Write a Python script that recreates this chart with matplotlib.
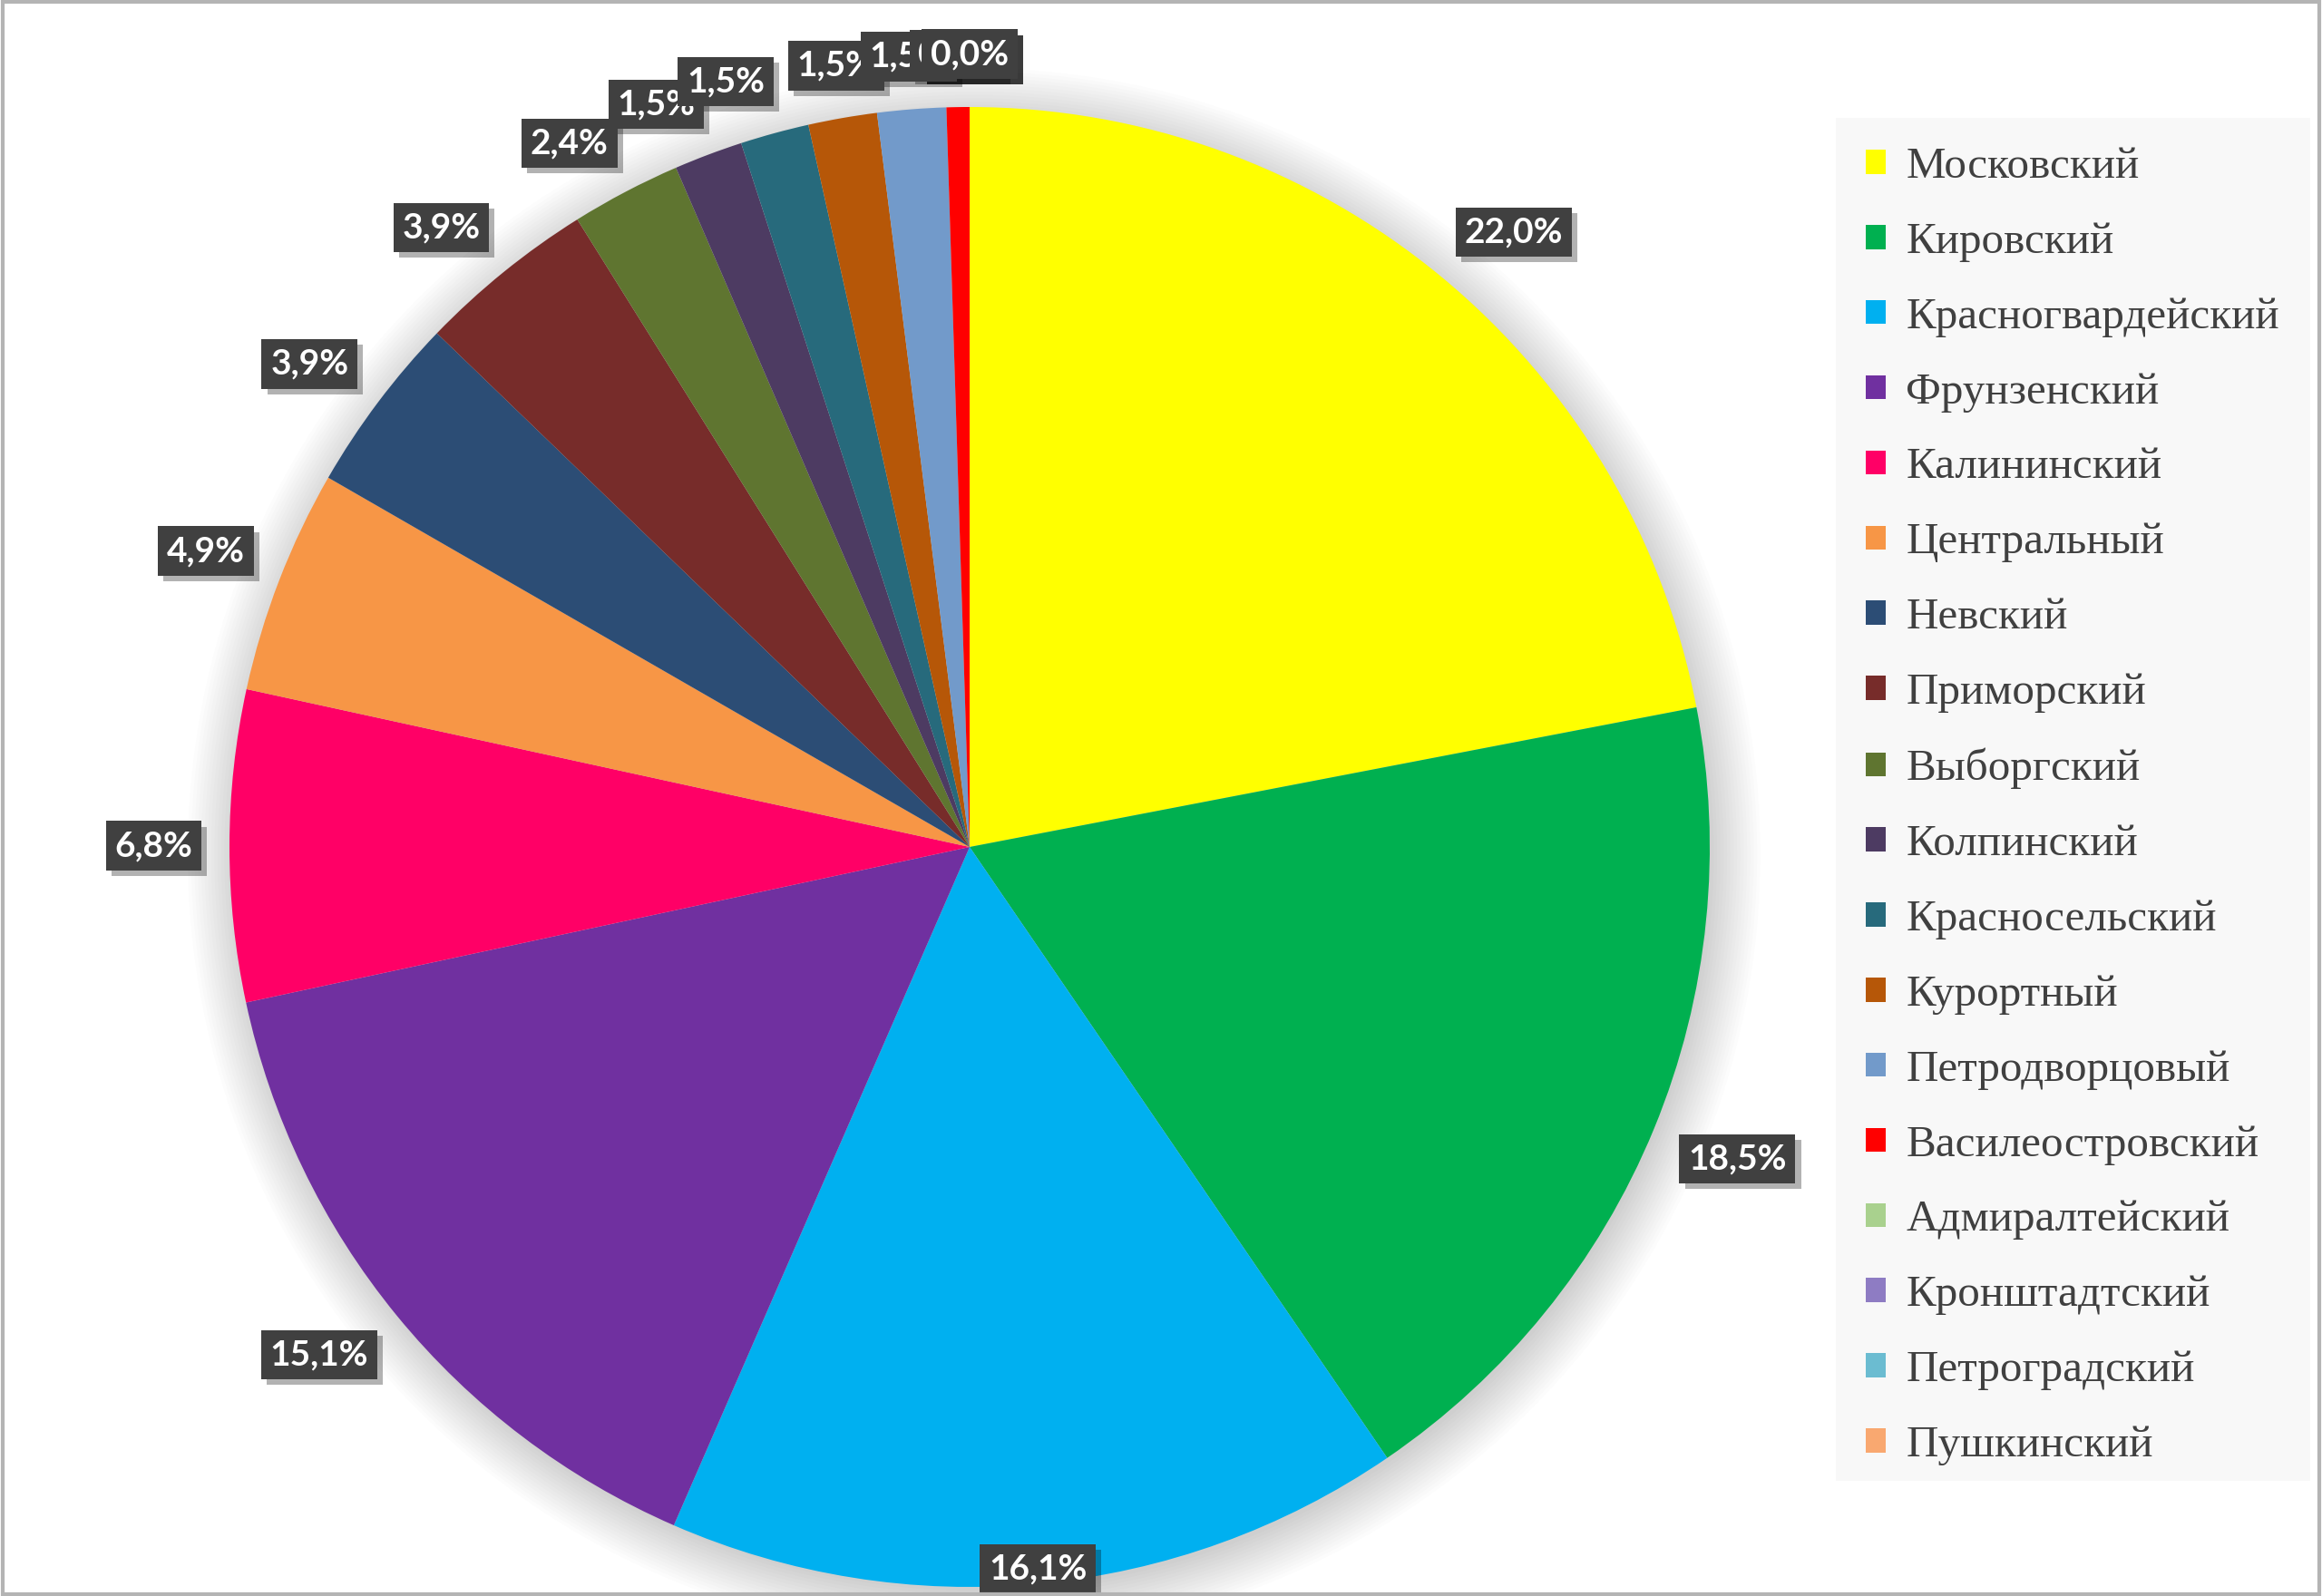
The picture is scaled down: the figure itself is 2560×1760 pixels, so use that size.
import numpy as np
import matplotlib
matplotlib.use('Agg')
import matplotlib.pyplot as plt
from matplotlib.patches import Circle, Rectangle
from matplotlib.transforms import offset_copy

# доли по районам, %
districts = ['Московский', 'Кировский', 'Красногвардейский', 'Фрунзенский',
             'Калининский', 'Центральный', 'Невский', 'Приморский',
             'Выборгский', 'Колпинский', 'Красносельский', 'Курортный',
             'Петродворцовый', 'Василеостровский', 'Адмиралтейский',
             'Кронштадтский', 'Петроградский', 'Пушкинский']
shares = [22.0, 18.5, 16.1, 15.1, 6.8, 4.9, 3.9, 3.9, 2.4,
          1.5, 1.5, 1.5, 1.5, 0.5, 0.0, 0.0, 0.0, 0.0]
colors = ['#FFFF00', '#00B050', '#00B0F0', '#7030A0', '#FF0066', '#F79646',
          '#2C4D75', '#772C2A', '#5F7530', '#4D3B62', '#276A7C', '#B65708',
          '#729ACA', '#FF0000', '#A9D18E', '#8E7CC3', '#6BBCD1', '#F9A870']

W, H = 2560, 1760
fig = plt.figure(figsize=(12.8, 8.8), dpi=200)
fig.patch.set_facecolor('white')

# рамка вокруг картинки
fig.patches.append(Rectangle((0.001, 0.001), 0.998, 0.998, transform=fig.transFigure,
                             fill=False, edgecolor='#b4b4b4', linewidth=1.5))

# ось под круг: центр (1069, 934), радиус 816 px
cx, cy, R = 1069, 934, 816
half = 880
ax = fig.add_axes([(cx - half) / W, (H - cy - half) / H, 2 * half / W, 2 * half / H])
ax.axis('off')

# мягкая тень под кругом
for k in range(16):
    ax.add_patch(Circle((0.006, -0.010), 0.995 + 0.0045 * k, color='black',
                        alpha=0.012, lw=0, zorder=0))

wedges, _ = ax.pie(shares, colors=colors, startangle=90, counterclock=False,
                   radius=1.0, wedgeprops=dict(linewidth=0))
for w in wedges:
    w.set_zorder(2)

# pie() ставит свои пределы, поэтому задаём их после
lim = half / R
ax.set_xlim(-lim, lim)
ax.set_ylim(-lim, lim)
ax.set_aspect('equal')

# подписи данных
for w, v in zip(wedges, shares):
    mid = np.deg2rad((w.theta1 + w.theta2) / 2)
    c, s = np.cos(mid), np.sin(mid)
    r = 1.05
    ha = 'left' if c > 0.2 else ('right' if c < -0.2 else 'center')
    va = 'bottom' if s > 0.2 else ('top' if s < -0.2 else 'center')
    if s < -0.9:
        r, va = 0.98, 'center'
    txt = f'{v:.1f}%'.replace('.', ',')
    x, y = r * c, r * s
    sh = offset_copy(ax.transData, fig=fig, x=2.2, y=-2.2, units='points')
    ax.text(x, y, txt, transform=sh, ha=ha, va=va, fontsize=14,
            fontweight='bold', family='Lato', color=(0, 0, 0, 0), zorder=4,
            bbox=dict(boxstyle='square,pad=0.25', fc='#000000', alpha=0.3, ec='none'),
            clip_on=False)
    ax.text(x, y, txt, ha=ha, va=va, fontsize=14, fontweight='bold',
            family='Lato', color='white', zorder=5,
            bbox=dict(boxstyle='square,pad=0.25', fc='#404040', ec='none'),
            clip_on=False)

# легенда
fig.patches.append(Rectangle((2024 / W, 1 - 1633 / H), (2547 - 2024) / W, (1633 - 130) / H,
                             transform=fig.transFigure, facecolor='#f8f8f8',
                             edgecolor='none', zorder=0))
leg = fig.legend(wedges, districts, loc='upper left',
                 bbox_to_anchor=(2003 / W, 1 - 108 / H), frameon=False,
                 prop=dict(family='Liberation Serif', size=17.7),
                 handlelength=0.45, handleheight=0.45, handletextpad=0.45,
                 labelspacing=0.79, borderpad=0.6)
for t in leg.get_texts():
    t.set_color('#404040')

fig.savefig('out.png', dpi=200)
